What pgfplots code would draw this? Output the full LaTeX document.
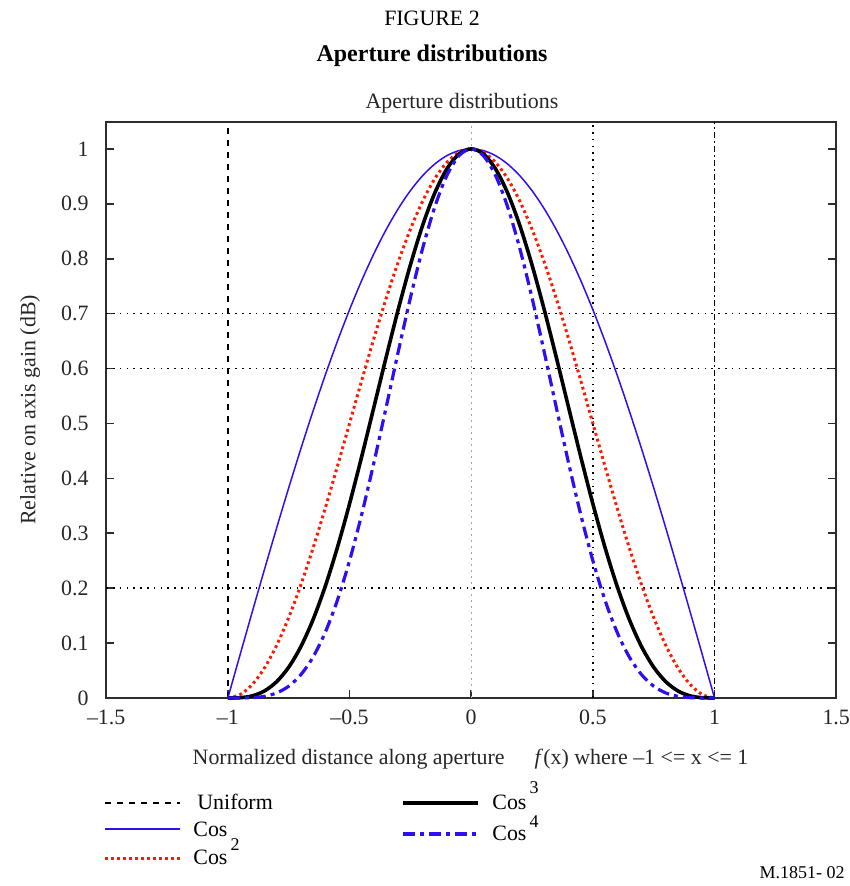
\documentclass[11pt,border=0pt]{standalone}
\usepackage{fontspec}
\setmainfont{Liberation Serif}
\usepackage{pgfplots}
\usepackage{pgfplotstable}
\pgfplotsset{compat=1.18}
\definecolor{cblue}{RGB}{45,15,245}
\definecolor{cred}{RGB}{255,25,0}
\definecolor{axgray}{RGB}{45,45,45}
\pgfplotstableread{
x c1 c2 c3 c4
-1.00 0 0 0 0
-0.95 0.07846 0.006156 0.000483 0.000038
-0.90 0.15643 0.024471 0.003828 0.000599
-0.85 0.23345 0.054499 0.012723 0.002970
-0.80 0.30902 0.095493 0.029509 0.009119
-0.75 0.38268 0.146444 0.056041 0.021446
-0.70 0.45399 0.206107 0.093571 0.042480
-0.65 0.52250 0.273006 0.142646 0.074532
-0.60 0.58779 0.345497 0.203080 0.119368
-0.55 0.64945 0.421785 0.273929 0.177903
-0.50 0.70711 0.500000 0.353553 0.250000
-0.45 0.76041 0.578223 0.439686 0.334342
-0.40 0.80902 0.654513 0.529514 0.428387
-0.35 0.85264 0.726995 0.619864 0.528522
-0.30 0.89101 0.793899 0.707372 0.630276
-0.25 0.92388 0.853554 0.788580 0.728554
-0.20 0.95106 0.904515 0.860248 0.818147
-0.15 0.97237 0.945503 0.919379 0.893976
-0.10 0.98769 0.975528 0.963519 0.951655
-0.05 0.99692 0.993850 0.990789 0.987738
0.00 1 1 1 1
0.05 0.99692 0.993850 0.990789 0.987738
0.10 0.98769 0.975528 0.963519 0.951655
0.15 0.97237 0.945503 0.919379 0.893976
0.20 0.95106 0.904515 0.860248 0.818147
0.25 0.92388 0.853554 0.788580 0.728554
0.30 0.89101 0.793899 0.707372 0.630276
0.35 0.85264 0.726995 0.619864 0.528522
0.40 0.80902 0.654513 0.529514 0.428387
0.45 0.76041 0.578223 0.439686 0.334342
0.50 0.70711 0.500000 0.353553 0.250000
0.55 0.64945 0.421785 0.273929 0.177903
0.60 0.58779 0.345497 0.203080 0.119368
0.65 0.52250 0.273006 0.142646 0.074532
0.70 0.45399 0.206107 0.093571 0.042480
0.75 0.38268 0.146444 0.056041 0.021446
0.80 0.30902 0.095493 0.029509 0.009119
0.85 0.23345 0.054499 0.012723 0.002970
0.90 0.15643 0.024471 0.003828 0.000599
0.95 0.07846 0.006156 0.000483 0.000038
1.00 0 0 0 0
}\cosdata
\begin{document}
\begin{tikzpicture}[x=1pt,y=1pt]
\useasboundingbox (-53.1,-94) rectangle (371.4,349);
\begin{axis}[
  at={(0,0)}, anchor=south west, scale only axis,
  width=365pt, height=288pt,
  xmin=-1.5, xmax=1.5, ymin=0, ymax=1.049,
  xtick={-1.5,-1,-0.5,0,0.5,1,1.5},
  xticklabels={–1.5,–1,–0.5,0,0.5,1,1.5},
  ytick={0,0.1,0.2,0.3,0.4,0.5,0.6,0.7,0.8,0.9,1},
  yticklabels={0,0.1,0.2,0.3,0.4,0.5,0.6,0.7,0.8,0.9,1},
  tick align=inside, major tick length=4pt,
  xtick pos=bottom, ytick pos=both,
  axis line style={axgray, line width=0.8pt},
  every tick/.style={axgray, line width=0.8pt},
  tick label style={font=\normalsize, text=black!85},
  yticklabel style={xshift=-5pt},
  xticklabel style={yshift=-2pt},
  clip=false,
]
% reference lines
\addplot[black, line width=0.7pt, dash pattern=on 0.8pt off 2.6pt, forget plot] coordinates {(-1.5,0.2) (1.5,0.2)};
\addplot[black, line width=0.7pt, dash pattern=on 0.8pt off 2.6pt, forget plot] coordinates {(-1.5,0.6) (1.5,0.6)};
\addplot[black, line width=0.7pt, dash pattern=on 0.8pt off 2.6pt, forget plot] coordinates {(-1.5,0.7) (1.5,0.7)};
\addplot[black, line width=0.7pt, dash pattern=on 0.8pt off 2.6pt, forget plot] coordinates {(0.5,0) (0.5,1.049)};
\addplot[gray!70, line width=0.5pt, dash pattern=on 0.8pt off 2.2pt, forget plot] coordinates {(0,0) (0,1.049)};
% uniform
\addplot[black, line width=0.8pt, dash pattern=on 3pt off 3pt] coordinates {(-1,0) (-1,1.049)};
\addplot[black, line width=0.8pt, dash pattern=on 3pt off 1.5pt on 1pt off 1.5pt, forget plot] coordinates {(1,0) (1,1.049)};
% curves
\addplot[cblue, line width=0.75pt, smooth] table[x=x, y=c1] {\cosdata};
\addplot[cred, line width=1.5pt, dash pattern=on 1.4pt off 1.6pt, smooth] table[x=x, y=c2] {\cosdata};
\addplot[black, line width=1.8pt, smooth] table[x=x, y=c3] {\cosdata};
\addplot[cblue, line width=1.6pt, dash pattern=on 6pt off 2.5pt on 2pt off 2.5pt, smooth] table[x=x, y=c4] {\cosdata};
\end{axis}
% titles
\node[font=\normalsize] at (162.9,340) {FIGURE 2};
\node[font=\large\bfseries] at (162.9,321) {Aperture distributions};
\node[font=\normalsize, text=black!85] at (177.9,297.5) {Aperture distributions};
% axis labels
\node[anchor=base west, font=\normalsize, text=black!85] at (39.4,-33.5) {Normalized distance along aperture};
\node[anchor=base west, font=\normalsize, text=black!85] at (210.4,-33.5) {\textit{f}(x) where –1 <= x <= 1};
\node[rotate=90, font=\normalsize, text=black!85] at (-38,144) {Relative on axis gain (dB)};
% legend
\draw[black, line width=0.8pt, dash pattern=on 3pt off 3pt] (-0.6,-52.5) -- (36.9,-52.5);
\node[anchor=west, inner sep=0pt, font=\normalsize] at (45.4,-52) {Uniform};
\draw[cblue, line width=0.75pt] (-0.6,-65.5) -- (36.9,-65.5);
\node[anchor=west, inner sep=0pt, font=\normalsize] at (43.4,-65.5) {Cos};
\node[inner sep=0pt, font=\footnotesize] at (64.4,-73.5) {2};
\draw[cred, line width=1.5pt, dash pattern=on 1.4pt off 1.6pt] (-0.6,-80) -- (36.9,-80);
\node[anchor=west, inner sep=0pt, font=\normalsize] at (43.4,-79.5) {Cos};
\draw[black, line width=1.8pt] (148.4,-52.5) -- (185.9,-52.5);
\node[anchor=west, inner sep=0pt, font=\normalsize] at (192.9,-52) {Cos};
\node[inner sep=0pt, font=\footnotesize] at (214,-45) {3};
\draw[cblue, line width=1.6pt, dash pattern=on 6pt off 2.5pt on 2pt off 2.5pt] (148.4,-68) -- (185.9,-68);
\node[anchor=west, inner sep=0pt, font=\normalsize] at (192.9,-67.5) {Cos};
\node[inner sep=0pt, font=\footnotesize] at (214,-62) {4};
\node[anchor=east, inner sep=0pt, font=\footnotesize] at (369.4,-87.5) {M.1851- 02};
\end{tikzpicture}
\end{document}
